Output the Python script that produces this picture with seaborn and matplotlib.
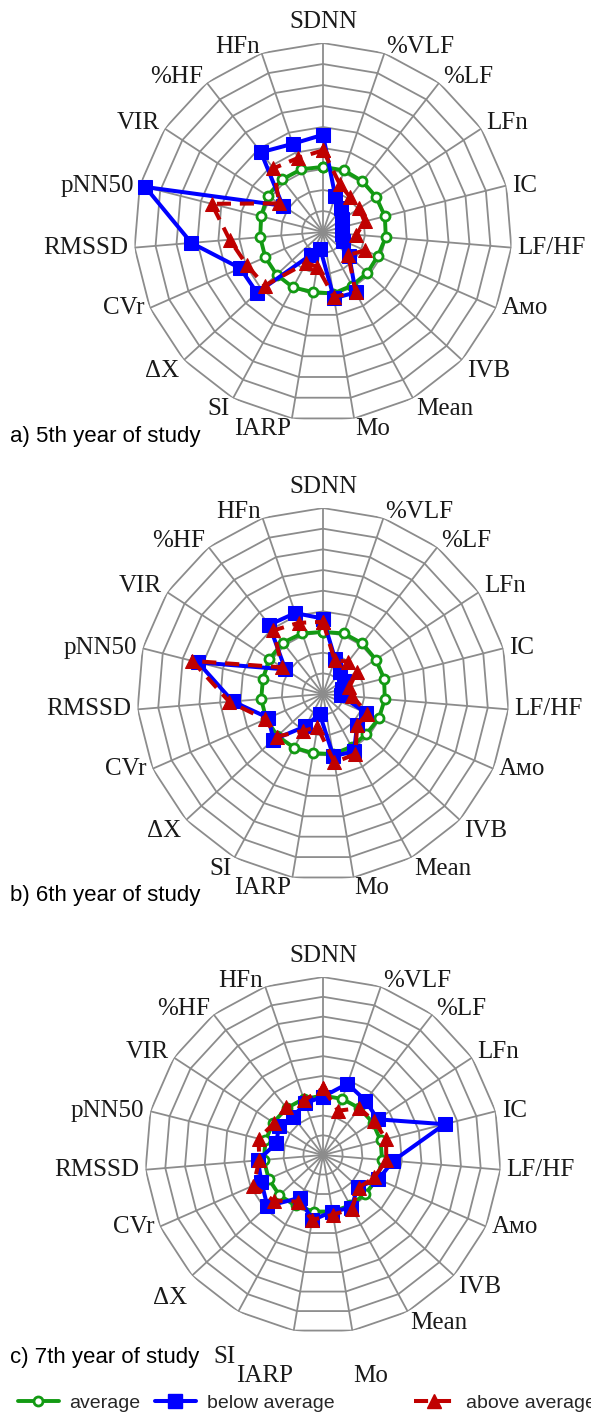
import numpy as np
import matplotlib
matplotlib.use("Agg")
import matplotlib.pyplot as plt
import seaborn as sns
from matplotlib.lines import Line2D

sns.set_theme(style="white")
plt.rcParams["font.family"] = ["Liberation Serif", "DejaVu Serif"]

# HRV indicators, clockwise from the top
indicators = ["SDNN", "%VLF", "%LF", "LFn", "IC", "LF/HF", "Амо", "IVB", "Mean",
              "Mo", "IARP", "SI", "ΔX", "CVr", "RMSSD", "pNN50", "VIR", "%HF", "HFn"]

# 5th year of study
avg_5 = [3.10, 3.10, 3.06, 3.03, 3.04, 3.00, 2.85, 2.87, 2.90, 2.97,
         2.90, 3.00, 3.00, 3.00, 3.00, 3.04, 3.15, 3.17, 3.16]
below_5 = [4.63, 1.80, 1.42, 1.10, 0.95, 0.90, 1.05, 1.70, 3.27, 3.20,
           0.81, 1.25, 4.27, 4.30, 6.29, 8.73, 2.29, 4.81, 4.44]
above_5 = [3.89, 2.43, 2.10, 2.07, 2.04, 1.60, 2.17, 1.63, 3.27, 3.13,
           1.68, 1.67, 3.77, 3.95, 4.46, 5.47, 2.49, 3.84, 3.72]

# 6th year of study
avg_6 = [3.00, 3.10, 3.10, 3.05, 3.05, 3.00, 2.95, 2.85, 2.90, 2.95,
         2.90, 2.95, 3.00, 3.00, 3.00, 3.00, 3.10, 3.15, 3.10]
below_6 = [3.65, 1.80, 1.37, 1.19, 0.93, 0.87, 2.27, 2.24, 3.16, 3.05,
           0.98, 1.78, 3.26, 2.88, 4.38, 6.24, 2.18, 4.24, 4.14]
above_6 = [3.49, 1.73, 1.98, 1.94, 1.31, 1.43, 2.35, 2.24, 3.30, 3.36,
           1.62, 2.03, 3.04, 3.05, 4.55, 6.52, 2.36, 3.90, 3.64]

# 7th year of study
avg_7 = [3.00, 3.00, 3.00, 3.00, 3.00, 3.00, 3.00, 2.90, 2.90, 2.90,
         2.90, 2.90, 3.00, 3.00, 3.00, 3.00, 3.00, 3.00, 3.00]
below_7 = [2.95, 3.81, 3.49, 3.30, 6.34, 3.56, 3.06, 2.39, 3.02, 2.90,
           3.34, 2.46, 3.82, 3.40, 3.30, 2.43, 2.67, 2.46, 2.77]
above_7 = [3.37, 2.37, 3.00, 3.10, 3.29, 3.21, 2.83, 2.44, 3.09, 3.06,
           3.33, 2.68, 3.40, 3.85, 3.23, 3.36, 2.95, 3.05, 2.93]

captions = ["a) 5th year of study", "b) 6th year of study", "c) 7th year of study"]
series_names = ["average", "below average", "above average"]

RINGS = 9
W, H = 591, 1414
GREEN, BLUE, RED, GRID = "#139a13", "#0000ff", "#c00000", "#8c8c8c"

styles = [
    dict(color=GREEN, marker="o", markersize=6.5, markerfacecolor="white",
         markeredgecolor=GREEN, markeredgewidth=2.0, linewidth=2.8, linestyle="-"),
    dict(color=BLUE, marker="s", markersize=9.5, markerfacecolor=BLUE,
         markeredgecolor=BLUE, linewidth=2.9, linestyle="-"),
    dict(color=RED, marker="^", markersize=10, markerfacecolor=RED,
         markeredgecolor=RED, linewidth=2.9, linestyle=(0, (3.5, 2.2))),
]

# extra label shifts (points, +down) for the crowded bottom of the last web
shift_c = {"ΔX": 8, "SI": 25, "IARP": 25, "Mo": 25}

panels = [
    dict(data=[avg_5, below_5, above_5], cx=323, cy=232, r=189, cap_y=437, shift={}),
    dict(data=[avg_6, below_6, above_6], cx=323, cy=694, r=186, cap_y=895, shift={}),
    dict(data=[avg_7, below_7, above_7], cx=323, cy=1155, r=178, cap_y=1358,
         shift=shift_c),
]

fig = plt.figure(figsize=(W / 100, H / 100), dpi=100)
fig.patch.set_facecolor("white")

n = len(indicators)
theta = np.arange(n) * 2 * np.pi / n
theta_closed = np.append(theta, 2 * np.pi)

for p, cap in zip(panels, captions):
    cx, cy, r = p["cx"], p["cy"], p["r"]
    ax = fig.add_axes([(cx - r) / W, 1 - (cy + r) / H, 2 * r / W, 2 * r / H],
                      projection="polar")
    ax.set_theta_zero_location("N")
    ax.set_theta_direction(-1)
    ax.set_ylim(0, RINGS)
    ax.grid(False)
    ax.set_xticks([])
    ax.set_yticks([])
    ax.spines["polar"].set_visible(False)
    ax.set_facecolor("none")

    # polygonal web: rings and spokes
    for k in range(1, RINGS + 1):
        ax.plot(theta_closed, np.full(n + 1, k), color=GRID, lw=1.3, zorder=1,
                solid_joinstyle="miter")
    for t in theta:
        ax.plot([t, t], [0, RINGS], color=GRID, lw=1.3, zorder=1)

    for vals, st in zip(p["data"], styles):
        v = np.append(vals, vals[0])
        sns.lineplot(x=theta_closed, y=v, ax=ax, sort=False, estimator=None,
                     zorder=3, clip_on=False, **st)
    ax.set_xlabel("")
    ax.set_ylabel("")

    # indicator labels around the web
    for t, lab in zip(theta, indicators):
        s, c = np.sin(t), np.cos(t)
        ha = "center" if abs(s) < 0.1 else ("left" if s > 0 else "right")
        va = "baseline" if c > 0.45 else ("top" if c < -0.6 else "center")
        dx = s * 4.5
        dy = 11 if (abs(s) < 0.1 and c > 0) else 0
        ax.annotate(lab, xy=(t, RINGS),
                    xytext=(dx, dy - p["shift"].get(lab, 0)),
                    textcoords="offset points", ha=ha, va=va,
                    fontsize=18, color="#1a1a1a", annotation_clip=False)

    fig.text(10 / W, 1 - p["cap_y"] / H, cap, ha="left", va="center",
             fontsize=16, family=["Liberation Sans", "DejaVu Sans"], color="black")

# legend entries laid out in one row along the bottom edge
leg_x = [18, 155, 414]
for st, name, x0 in zip(styles, series_names, leg_x):
    fig.legend([Line2D([], [], **st)], [name], loc="center left",
               bbox_to_anchor=(x0 / W, 1 - 1403 / H), frameon=False,
               prop={"family": ["Liberation Sans", "DejaVu Sans"], "size": 14},
               handlelength=2.1, handletextpad=0.55,
               borderaxespad=0, borderpad=0)

fig.savefig("out.png", dpi=100, facecolor="white")
